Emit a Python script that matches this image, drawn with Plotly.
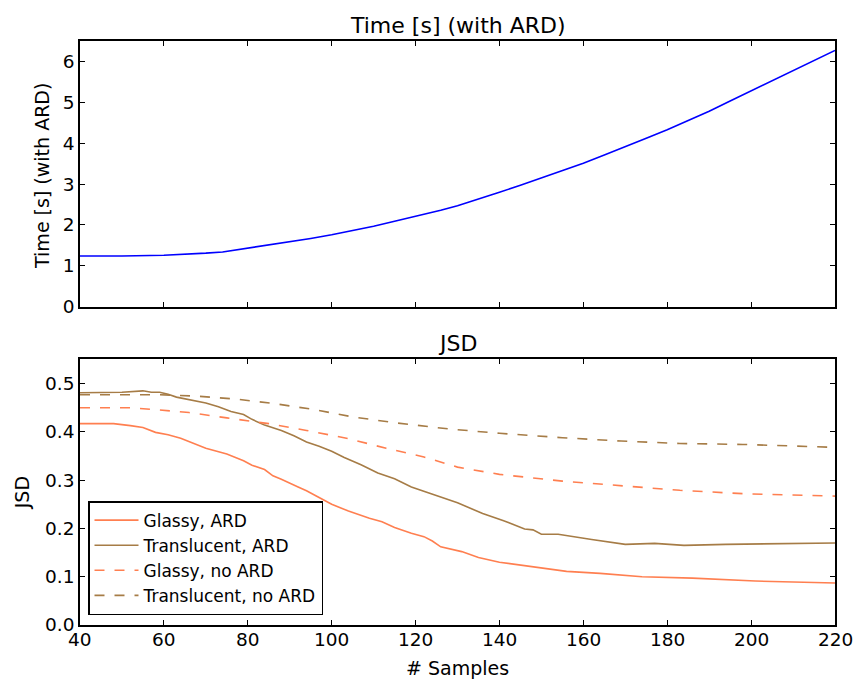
import plotly.graph_objects as go

# ---- Timing data (seconds, with ARD) ----
time_samples = [40, 50, 60, 65, 70, 74, 80, 85, 90, 95, 100, 105, 110, 115, 120, 126, 130,
                135, 140, 145, 150, 155, 160, 165, 170, 175, 180, 185, 190, 195, 200, 205,
                210, 215, 220]
time_values = [1.24, 1.24, 1.26, 1.28, 1.31, 1.34, 1.43, 1.51, 1.59, 1.67, 1.76, 1.86, 1.97,
               2.09, 2.21, 2.36, 2.47, 2.63, 2.80, 2.97, 3.15, 3.33, 3.51, 3.71, 3.91, 4.12,
               4.33, 4.55, 4.78, 5.03, 5.28, 5.52, 5.76, 6.01, 6.27]

# ---- JSD data ----
glassy_ard_x = [40, 48, 52, 55, 58, 61, 64, 67, 70, 75, 79, 81, 84, 86, 88, 92, 94, 97, 100,
                104, 106, 109, 112, 115, 119, 122, 124, 126, 131, 135, 140, 147, 156, 164,
                174, 186, 201, 220]
glassy_ard_y = [0.417, 0.417, 0.413, 0.409, 0.399, 0.394, 0.387, 0.376, 0.366, 0.354, 0.340,
                0.331, 0.322, 0.309, 0.302, 0.286, 0.278, 0.264, 0.250, 0.236, 0.230, 0.221,
                0.214, 0.202, 0.190, 0.183, 0.174, 0.162, 0.152, 0.140, 0.130, 0.122, 0.111,
                0.107, 0.100, 0.097, 0.091, 0.087]

transl_ard_x = [40, 50, 55, 57, 59, 61, 63, 66, 70, 73, 76, 79, 81, 84, 88, 91, 94, 97, 100,
                103, 107, 111, 115, 119, 124, 130, 136, 141, 146, 148, 150, 154, 162, 170,
                177, 184, 194, 205, 220]
transl_ard_y = [0.481, 0.482, 0.485, 0.482, 0.482, 0.478, 0.472, 0.467, 0.460, 0.452, 0.442,
                0.436, 0.426, 0.414, 0.403, 0.392, 0.379, 0.370, 0.360, 0.347, 0.332, 0.315,
                0.303, 0.286, 0.271, 0.253, 0.231, 0.216, 0.199, 0.197, 0.188, 0.188, 0.177,
                0.167, 0.169, 0.165, 0.167, 0.168, 0.170]

glassy_noard_x = [40, 52, 58, 66, 75, 85, 94, 104, 113, 122, 130, 140, 155, 169, 183, 198, 220]
glassy_noard_y = [0.450, 0.450, 0.446, 0.440, 0.429, 0.417, 0.403, 0.386, 0.366, 0.348, 0.327,
                  0.312, 0.298, 0.288, 0.279, 0.272, 0.267]

transl_noard_x = [40, 59, 68, 77, 86, 96, 105, 115, 128, 140, 155, 169, 183, 198, 220]
transl_noard_y = [0.477, 0.477, 0.474, 0.468, 0.459, 0.446, 0.431, 0.419, 0.406, 0.397, 0.388,
                  0.381, 0.376, 0.374, 0.368]

x_ticks = [40, 60, 80, 100, 120, 140, 160, 180, 200, 220]

ORANGE = "#ff7f50"
BROWN = "#a67c46"
FONT = "DejaVu Sans"
DASH = "10px,10px"

fig = go.Figure()

fig.add_trace(go.Scatter(x=time_samples, y=time_values, mode="lines",
                         line=dict(color="#0000ff", width=1.6),
                         xaxis="x", yaxis="y", showlegend=False))

fig.add_trace(go.Scatter(x=glassy_ard_x, y=glassy_ard_y, mode="lines", name="Glassy, ARD",
                         line=dict(color=ORANGE, width=1.6), xaxis="x2", yaxis="y2"))
fig.add_trace(go.Scatter(x=transl_ard_x, y=transl_ard_y, mode="lines", name="Translucent, ARD",
                         line=dict(color=BROWN, width=1.6), xaxis="x2", yaxis="y2"))
fig.add_trace(go.Scatter(x=glassy_noard_x, y=glassy_noard_y, mode="lines", name="Glassy, no ARD",
                         line=dict(color=ORANGE, width=1.6, dash=DASH), xaxis="x2", yaxis="y2"))
fig.add_trace(go.Scatter(x=transl_noard_x, y=transl_noard_y, mode="lines",
                         name="Translucent, no ARD",
                         line=dict(color=BROWN, width=1.6, dash=DASH), xaxis="x2", yaxis="y2"))

axis_common = dict(showline=True, linecolor="black", linewidth=1.6, mirror="allticks",
                   ticks="inside", ticklen=5, tickwidth=1, tickcolor="black",
                   showgrid=False, zeroline=False,
                   tickfont=dict(family=FONT, size=18.5, color="black"))

# x tick labels of the lower panel, left-aligned text boxes centred on each tick
x_tick_labels = [
    dict(text=str(v), xref="x2", yref="paper", x=v, y=-0.0256, xanchor="center",
         yanchor="middle", align="left", showarrow=False,
         font=dict(family=FONT, size=18.5, color="black"))
    for v in x_ticks
]

fig.update_layout(
    width=855, height=681,
    margin=dict(l=80, r=20, t=41, b=56),
    paper_bgcolor="white", plot_bgcolor="white",
    font=dict(family=FONT, color="black"),
    xaxis=dict(domain=[0, 1], anchor="y", range=[40, 220], tickvals=x_ticks,
               showticklabels=False, **axis_common),
    yaxis=dict(domain=[0.545, 1], anchor="x", range=[0, 6.5], tickvals=[0, 1, 2, 3, 4, 5, 6],
               **axis_common),
    xaxis2=dict(domain=[0, 1], anchor="y2", range=[40, 220], tickvals=x_ticks,
                showticklabels=False, **axis_common),
    yaxis2=dict(domain=[0, 0.4547], anchor="x2", range=[0, 0.55],
                tickvals=[0, 0.1, 0.2, 0.3, 0.4, 0.5], tickformat=".1f", **axis_common),
    legend=dict(x=0.0106, y=0.017, xanchor="left", yanchor="bottom",
                bgcolor="white", bordercolor="black", borderwidth=1.5,
                font=dict(family=FONT, size=17, color="black"),
                itemwidth=44),
    annotations=x_tick_labels + [
        dict(text="Time [s] (with ARD)", xref="paper", yref="paper", x=0.5, y=1.027,
             xanchor="center", yanchor="middle", showarrow=False,
             font=dict(family=FONT, size=22)),
        dict(text="JSD", xref="paper", yref="paper", x=0.5, y=0.482,
             xanchor="center", yanchor="middle", showarrow=False,
             font=dict(family=FONT, size=22)),
        dict(text="# Samples", xref="paper", yref="paper", x=0.5, y=-0.0735,
             xanchor="center", yanchor="middle", showarrow=False,
             font=dict(family=FONT, size=19)),
        dict(text="Time [s] (with ARD)", xref="paper", yref="paper", x=-0.0503, y=0.769,
             xanchor="center", yanchor="middle", showarrow=False, textangle=-90,
             font=dict(family=FONT, size=19)),
        dict(text="JSD", xref="paper", yref="paper", x=-0.0768, y=0.2256,
             xanchor="center", yanchor="middle", showarrow=False, textangle=-90,
             font=dict(family=FONT, size=19)),
    ],
)

fig.write_html("out.html")
